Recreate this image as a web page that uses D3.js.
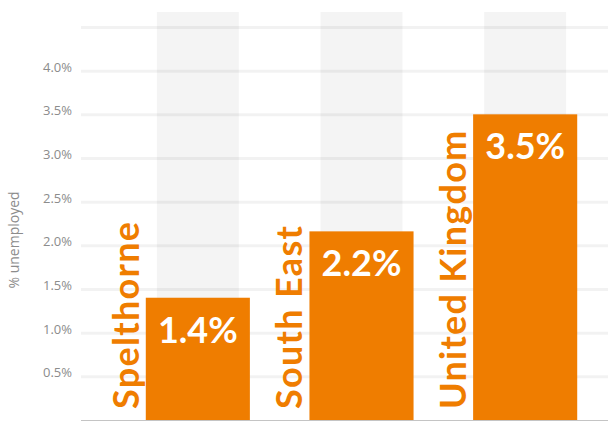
<!DOCTYPE html>
<html>
<head>
<meta charset="utf-8">
<script src="https://cdn.jsdelivr.net/npm/d3@7"></script>
<style>
  html, body { margin: 0; padding: 0; background: #fff; }
  svg { display: block; }
</style>
</head>
<body>
<svg id="chart"></svg>
<script>
// 数据
const categories = ['Spelthorne', 'South East', 'United Kingdom']
const unemployed = [1.4, 2.16, 3.5]
const yTicks = [0.5, 1.0, 1.5, 2.0, 2.5, 3.0, 3.5, 4.0, 4.5]

const width = 608
const height = 421
const padding = { top: 27, right: 0, bottom: 1, left: 81 }
const orange = '#ef7d00'

const svg = d3.select('#chart')
  .attr('width', width)
  .attr('height', height)

const xScale = d3.scaleBand()
  .domain(categories)
  .range([116, 607])
  .padding(0)

const yScale = d3.scaleLinear()
  .domain([0, 4.5])
  .range([height - padding.bottom, padding.top])

// 灰色背景条
svg.append('g').attr('class', 'bg-bands')
  .selectAll('rect')
  .data(categories)
  .enter().append('rect')
  .attr('x', d => xScale(d) + xScale.bandwidth() * 0.25)
  .attr('width', xScale.bandwidth() * 0.5)
  .attr('y', 12)
  .attr('height', yScale(0) - 12)
  .attr('fill', '#f4f4f4')

// 网格线 + Y轴
const yAxis = d3.axisLeft(yScale)
  .tickValues(yTicks)
  .tickSize(-(width - padding.left))
  .tickFormat(d => d === 4.5 ? '' : d.toFixed(1) + '%')

const yAxisG = svg.append('g')
  .attr('class', 'y-axis')
  .attr('transform', `translate(${padding.left},0)`)
  .call(yAxis)
yAxisG.select('.domain').remove()
yAxisG.selectAll('.tick line')
  .attr('stroke', '#000')
  .attr('stroke-opacity', 0.05)
  .attr('stroke-width', 3)
yAxisG.selectAll('.tick text')
  .attr('x', -9)
  .attr('dy', '0.05em')
  .attr('fill', '#8c8c8c')
  .attr('font-family', '"Open Sans", sans-serif')
  .attr('font-size', 13)

// 柱子
const barW = xScale.bandwidth() * 0.636
const bars = svg.append('g').attr('class', 'bar-wrap')
  .selectAll('.bar')
  .data(categories.map((c, i) => ({ name: c, value: unemployed[i] })))
  .enter().append('g')
  .attr('class', 'bar')

bars.append('rect')
  .attr('x', d => xScale(d.name) + (xScale.bandwidth() - barW) / 2)
  .attr('width', barW)
  .attr('y', d => yScale(d.value))
  .attr('height', d => yScale(0) - yScale(d.value))
  .attr('fill', orange)

// 数值
bars.append('text')
  .attr('x', d => xScale(d.name) + xScale.bandwidth() / 2)
  .attr('y', d => yScale(d.value) + 45)
  .attr('text-anchor', 'middle')
  .attr('fill', '#fff')
  .attr('font-family', 'Lato, sans-serif')
  .attr('font-weight', 700)
  .attr('font-size', 36)
  .text(d => d.value.toFixed(1) + '%')

// 类别名称（竖排）
bars.append('text')
  .attr('transform', d => {
    const x = xScale(d.name) + (xScale.bandwidth() - barW) / 2 - 7
    return `translate(${x},${yScale(0) - 11}) rotate(-90)`
  })
  .attr('fill', orange)
  .attr('font-family', 'Lato, sans-serif')
  .attr('font-weight', 700)
  .attr('font-size', 36)
  .attr('letter-spacing', 1.3)
  .text(d => d.name)

// X轴基线
svg.append('line')
  .attr('x1', padding.left)
  .attr('x2', width)
  .attr('y1', yScale(0) + 0.5)
  .attr('y2', yScale(0) + 0.5)
  .attr('stroke', '#c4c4c4')

// Y轴标题
svg.append('text')
  .attr('transform', `translate(19,${240}) rotate(-90)`)
  .attr('text-anchor', 'middle')
  .attr('fill', '#8c8c8c')
  .attr('font-family', '"Open Sans", sans-serif')
  .attr('font-size', 14)
  .text('% unemployed')
</script>
</body>
</html>
